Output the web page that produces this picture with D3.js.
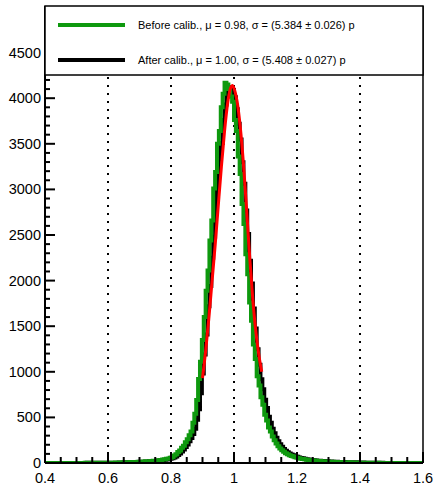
<!DOCTYPE html>
<html><head><meta charset="utf-8">
<script src="https://cdn.jsdelivr.net/npm/d3@7"></script>
<style>body{margin:0;background:#fff}svg{display:block}text{font-family:"Liberation Sans",Arial,sans-serif}</style>
</head><body><svg id="c" width="434" height="484"></svg>
<script>
// Histogram binning: 200 bins from 0.4 to 1.6
const binLow = 0.4, binWidth = 0.006;
const beforeCounts = [
0,0,0,0,1,0,0,1,0,0, 1,0,1,0,1,1,0,1,1,1, 1,2,1,1,2,1,2,2,1,2,
2,3,2,3,3,4,4,5,5,6, 6,7,8,8,9,10,10,11,12,13, 14,15,16,18,19,20,22,24,26,28,
31,33,38,40,46,49,57,63,82,96, 120,138,168,190,228,260,305,345,440,540,
690,920,1110,1350,1600,1890,2110,2440,2660,3010, 3190,3500,3640,3900,4050,4170,4150,4100,4020,3960,
3760,3640,3360,3170,2840,2620,2290,2070,1760,1560, 1300,1140,950,850,720,640,530,465,390,345,
290,250,215,185,160,140,122,108,96,86, 78,70,63,57,52,47,43,40,37,34,
31,29,27,25,23,21,20,18,17,16, 15,14,13,12,11,10,10,9,8,8,
7,7,6,6,5,5,4,4,4,3, 3,3,2,2,2,2,2,1,1,1, 1,1,0,1,0,1,0,0,1,0, 0,0,1,0,0,0,0,0,0,0
];
const afterCounts = [
0,0,0,0,0,1,0,0,0,1, 0,1,0,1,0,1,1,0,1,1, 1,1,2,1,1,2,1,2,2,2,
2,2,3,2,3,3,4,4,4,5, 6,6,7,8,8,9,10,10,11,12, 13,14,15,16,17,19,20,21,23,25,
27,29,32,35,39,43,47,52,59,70, 87,104,126,147,176,202,239,275,318,376,
473,590,766,982,1190,1410,1720,1940,2250,2480, 2810,3030,3330,3510,3760,3930,4080,4110,4120,4090,
4010,3880,3720,3548,3297,3061,2768,2511,2217,1968, 1694,1474,1247,1078,918,808,693,604,508,441,
375,327,277,239,205,177,153,134,118,104, 92,84,75,68,61,55,51,46,42,39,
36,33,30,28,26,24,22,21,19,18, 17,16,15,14,13,12,11,11,10,9,
9,8,8,7,7,6,6,5,5,4, 4,4,3,3,3,2,2,2,2,1, 1,1,1,1,1,0,1,0,1,0, 0,1,0,0,0,0,0,0,0,0
];
const fitX = [0.900,0.910,0.920,0.930,0.940,0.950,0.960,0.970,0.980,0.990,0.995,1.000,1.010,1.020,1.030,1.040,1.050,1.060,1.070,1.080,1.088];
const fitY = [930,1230,1580,1980,2380,2820,3250,3640,3950,4120,4140,4110,3960,3680,3280,2780,2250,1780,1420,1160,1000];
const xTicks = [0.4,0.6,0.8,1.0,1.2,1.4,1.6];
const xTickLabels = ["0.4","0.6","0.8","1","1.2","1.4","1.6"];
const gridX = [0.6,0.8,1.0,1.2,1.4];
const yTicks = [0,500,1000,1500,2000,2500,3000,3500,4000,4500];
const legendLabels = ["Before calib., \u03bc = 0.98, \u03c3 = (5.384 \u00b1 0.026) p",
                      "After calib., \u03bc = 1.00, \u03c3 = (5.408 \u00b1 0.027) p"];
const seriesColors = ["#0e990e","#000000"];

const svg = d3.select("#c");
const x = d3.scaleLinear().domain([0.4,1.6]).range([45,423]);
const y = d3.scaleLinear().domain([0,5000]).range([463,7]);

// grid
svg.append("g").selectAll("line").data(gridX).join("line")
  .attr("x1",d=>x(d)).attr("x2",d=>x(d)).attr("y1",y(0)).attr("y2",y(5000))
  .attr("stroke","#000").attr("stroke-width",2).attr("stroke-dasharray","2,6");

function histPath(counts){
  const pts = counts.map((c,i)=>[binLow+i*binWidth,c]);
  pts.push([binLow+counts.length*binWidth, counts[counts.length-1]]);
  return d3.line().x(d=>x(d[0])).y(d=>y(d[1])).curve(d3.curveStepAfter)(pts);
}
svg.append("clipPath").attr("id","pc").append("rect")
  .attr("x",45).attr("y",7).attr("width",378).attr("height",456);
const plot = svg.append("g").attr("clip-path","url(#pc)");
plot.append("path").attr("d",histPath(afterCounts)).attr("fill","none")
  .attr("stroke",seriesColors[1]).attr("stroke-width",4);
plot.append("path").attr("d",histPath(beforeCounts)).attr("fill","none")
  .attr("stroke",seriesColors[0]).attr("stroke-width",4);
plot.append("path").attr("d",d3.line().x((d,i)=>x(fitX[i])).y(d=>y(d)).curve(d3.curveMonotoneX)(fitY))
  .attr("fill","none").attr("stroke","#ff0000").attr("stroke-width",3);

// axes
const ax = svg.append("g");
const minorX = d3.range(0,25).map(i=>0.4+i*0.05);
ax.selectAll(".mx").data(minorX).join("line")
  .attr("x1",d=>x(d)).attr("x2",d=>x(d)).attr("y1",y(0)).attr("y2",(d,i)=>y(0)-(i%4===0?11:6))
  .attr("stroke","#000").attr("stroke-width",2);
const minorY = d3.range(0,50).map(i=>i*100);
ax.selectAll(".my").data(minorY).join("line")
  .attr("y1",d=>y(d)).attr("y2",d=>y(d)).attr("x1",x(0.4)).attr("x2",(d,i)=>x(0.4)+(i%5===0?10:5))
  .attr("stroke","#000").attr("stroke-width",2);
ax.append("line").attr("x1",45).attr("x2",423).attr("y1",463).attr("y2",463).attr("stroke","#000").attr("stroke-width",2);
ax.append("line").attr("x1",45).attr("x2",45).attr("y1",6).attr("y2",463).attr("stroke","#000").attr("stroke-width",2);
ax.append("line").attr("x1",423).attr("x2",423).attr("y1",6).attr("y2",463).attr("stroke","#000").attr("stroke-width",1.5);

ax.selectAll(".xl").data(xTicks).join("text")
  .attr("x",d=>x(d)).attr("y",482.5).attr("text-anchor","middle").attr("font-size",14.5).text((d,i)=>xTickLabels[i]);
ax.selectAll(".yl").data(yTicks).join("text")
  .attr("x",41).attr("y",d=>y(d)+5).attr("text-anchor","end").attr("font-size",14.5).text(d=>d);

// legend
const lg = svg.append("g");
lg.append("rect").attr("x",45).attr("y",6).attr("width",378).attr("height",69)
  .attr("fill","#fff").attr("stroke","#000").attr("stroke-width",1.5);
[25,60].forEach((ly,i)=>{
  lg.append("line").attr("x1",58).attr("x2",125).attr("y1",ly).attr("y2",ly)
    .attr("stroke",seriesColors[i]).attr("stroke-width",4);
  lg.append("text").attr("x",138).attr("y",ly+3.8).attr("font-size",11).text(legendLabels[i]);
});
</script></body></html>
